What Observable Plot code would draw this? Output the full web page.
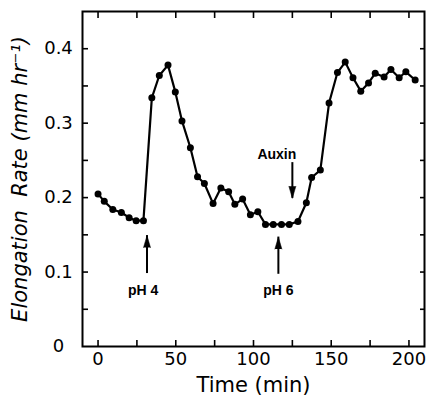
<!DOCTYPE html>
<html><head><meta charset="utf-8">
<script src="https://cdn.jsdelivr.net/npm/d3@7"></script>
<script src="https://cdn.jsdelivr.net/npm/@observablehq/plot@0.6"></script>
<style>body{margin:0;background:#fff} svg{display:block}</style>
</head><body><div id="chart"></div>
<script>
// Data
const time = [0, 4, 9.5, 15, 20, 24.5, 29.2, 34.6, 39.4, 45, 49.7, 54, 59.4, 64, 68.4, 74, 79, 84, 88, 93, 98, 102.8, 107.7, 112.7, 118, 123, 128.6, 134, 137.4, 143, 148.6, 154, 159, 164, 169, 174, 178.3, 184, 188.4, 193.7, 198, 204];
const rate = [0.205, 0.195, 0.184, 0.180, 0.173, 0.169, 0.169, 0.334, 0.364, 0.378, 0.342, 0.303, 0.267, 0.228, 0.219, 0.192, 0.213, 0.208, 0.191, 0.198, 0.177, 0.181, 0.164, 0.164, 0.164, 0.164, 0.168, 0.193, 0.227, 0.237, 0.327, 0.368, 0.382, 0.361, 0.343, 0.354, 0.367, 0.362, 0.372, 0.361, 0.369, 0.358];

const xLabelTicks = [0, 50, 100, 150, 200];
const xMinorTicks = [0, 25, 50, 75, 100, 125, 150, 175, 200];
const yLabelTicks = [0, 0.1, 0.2, 0.3, 0.4];
const yMinorTicks = [0.05, 0.1, 0.15, 0.2, 0.25, 0.3, 0.35, 0.4];

const xTitle = "Time (min)";
const yTitle = "Elongation  Rate (mm hr\u207B\u00B9)";

// Annotations
const annLabels = ["pH 4", "pH 6", "Auxin"];
const annLabelX = [29, 116, 115];
const annLabelY = [0.075, 0.075, 0.258];
const arrowX = [31.5, 116, 125];
const arrowFrom = [0.098, 0.097, 0.247];
const arrowTip = [0.149, 0.147, 0.199];
const arrowRotate = [0, 0, 180];

const data = time.map((t, i) => ({time: t, rate: rate[i]}));
const ann = annLabels.map((l, i) => ({label: l, x: annLabelX[i], y: annLabelY[i]}));
const arrows = arrowX.map((x, i) => ({x, y1: arrowFrom[i], y2: arrowTip[i], rot: arrowRotate[i]}));

const font = "DejaVu Sans, sans-serif";

const chart = Plot.plot({
  width: 426,
  height: 398,
  marginLeft: 82,
  marginRight: 2,
  marginTop: 11,
  marginBottom: 52,
  style: {fontFamily: font, background: "#fff", color: "#000"},
  x: {domain: [-10, 210]},
  y: {domain: [0, 0.45]},
  marks: [
    Plot.frame({stroke: "black", strokeWidth: 2}),
    // tick marks pointing inward on all four sides
    Plot.axisX({ticks: xMinorTicks, tickSize: -6, tickFormat: () => "", label: null, strokeWidth: 1.6}),
    Plot.axisX({anchor: "top", ticks: xMinorTicks, tickSize: -6, tickFormat: () => "", label: null, strokeWidth: 1.6}),
    Plot.axisY({ticks: yMinorTicks, tickSize: -6, tickFormat: () => "", label: null, strokeWidth: 1.6}),
    Plot.axisY({anchor: "right", ticks: yMinorTicks, tickSize: -5, tickFormat: () => "", label: null, strokeWidth: 1.6}),
    // tick labels
    Plot.axisX({ticks: xLabelTicks, tickSize: 0, tickPadding: 6, label: null, fontSize: 18, tickFormat: d => String(d)}),
    Plot.axisY({ticks: yLabelTicks, tickSize: 0, tickPadding: 0, dx: -24, textAnchor: "middle", label: null, fontSize: 18,
      tickFormat: d => d === 0 ? "0" : d.toFixed(1)}),
    // axis titles
    Plot.text([xTitle], {frameAnchor: "bottom", dy: 39, lineAnchor: "middle", textAnchor: "middle", fontSize: 21, text: d => d}),
    Plot.text([yTitle], {frameAnchor: "left", dx: -62, rotate: -90, lineAnchor: "middle", textAnchor: "middle", fontSize: 21, fontStyle: "italic", text: d => d}),
    // series
    Plot.line(data, {x: "time", y: "rate", stroke: "black", strokeWidth: 2.2}),
    Plot.dot(data, {x: "time", y: "rate", r: 3.5, fill: "black"}),
    // annotations
    Plot.ruleX(arrows, {x: "x", y1: "y1", y2: "y2", stroke: "black", strokeWidth: 2}),
    Plot.vector(arrows, {x: "x", y: "y2", rotate: "rot", shape: "spike", anchor: "end", length: 12, r: 3.5, fill: "black", stroke: "black", strokeWidth: 0.5}),
    Plot.text(ann, {x: "x", y: "y", text: "label", fontSize: 14, fontWeight: "bold", fontFamily: "Liberation Sans, Arial, sans-serif"})
  ]
});
document.getElementById("chart").appendChild(chart);
</script>
</body></html>
